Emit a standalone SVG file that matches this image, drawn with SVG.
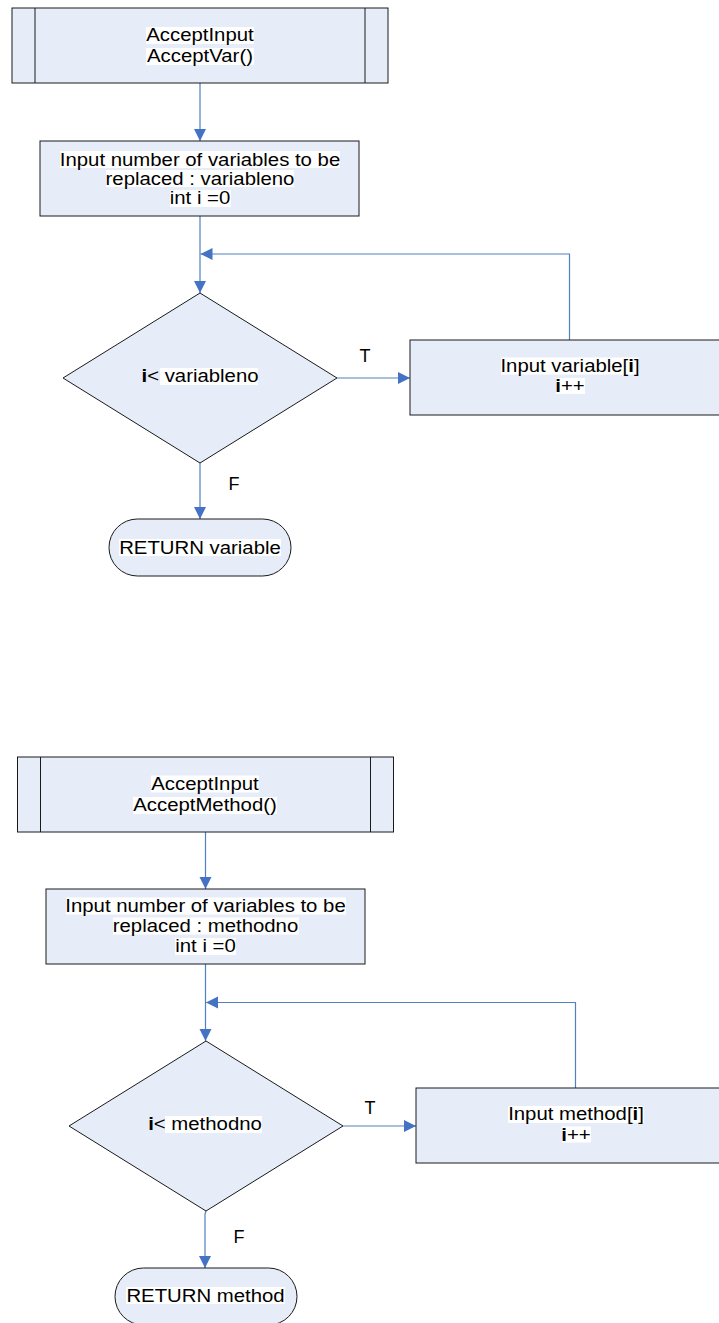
<svg xmlns="http://www.w3.org/2000/svg" width="719" height="1323" viewBox="0 0 719 1323">
<style>
.shape{fill:#E7EDF8;stroke:#1a1a1a;stroke-width:1}
.edge{fill:none;stroke:#4F81BD;stroke-width:1.2}
.tbg{fill:#ffffff}
.t{font-family:"Liberation Sans",Arial,sans-serif;font-size:18.5px;fill:#000;text-anchor:middle}
.lbl{font-family:"Liberation Sans",Arial,sans-serif;font-size:18px;fill:#000;text-anchor:middle}
.b{font-weight:bold}
</style>
<defs>
<marker id="arr" markerUnits="userSpaceOnUse" markerWidth="13" markerHeight="13" refX="12" refY="6" orient="auto" viewBox="0 0 13 12">
<path d="M0,0 L12,6 L0,12 z" fill="#4472C4"/>
</marker>
</defs>
<rect width="719" height="1323" fill="#ffffff"/>

<g id="connectors">
<path class="edge" d="M200,83 L200,141" marker-end="url(#arr)"/>
<path class="edge" d="M200,216 L200,293" marker-end="url(#arr)"/>
<path class="edge" d="M337,378 L410,378" marker-end="url(#arr)"/>
<path class="edge" d="M569.5,340 L569.5,254 L200.5,254" marker-end="url(#arr)"/>
<path class="edge" d="M200,463 L200,519" marker-end="url(#arr)"/>
<path class="edge" d="M205.5,832 L205.5,889" marker-end="url(#arr)"/>
<path class="edge" d="M205.5,964 L205.5,1041" marker-end="url(#arr)"/>
<path class="edge" d="M343,1126 L416,1126" marker-end="url(#arr)"/>
<path class="edge" d="M575.5,1088 L575.5,1002.5 L206,1002.5" marker-end="url(#arr)"/>
<path class="edge" d="M206,1211 L205,1214 L205,1268" marker-end="url(#arr)"/>
</g>

<g id="edge-labels">
<text class="lbl" x="365" y="362">T</text>
<text class="lbl" x="234" y="489.5">F</text>
<text class="lbl" x="370" y="1114">T</text>
<text class="lbl" x="239" y="1242.5">F</text>
</g>

<g id="n1-acceptvar">
<rect class="shape" x="12" y="8" width="376" height="75"/>
<line class="shape" x1="35" y1="8" x2="35" y2="83"/>
<line class="shape" x1="365" y1="8" x2="365" y2="83"/>
<rect class="tbg" x="146" y="27" width="108" height="17"/>
<rect class="tbg" x="146" y="48" width="108" height="17"/>
<text class="t" transform="translate(200,41) scale(1.1,1)">AcceptInput</text>
<text class="t" transform="translate(200,62) scale(1.1,1)">AcceptVar()</text>
</g>

<g id="n2-input-variableno">
<rect class="shape" x="40" y="141" width="319" height="75"/>
<rect class="tbg" x="60" y="151" width="280" height="17"/>
<rect class="tbg" x="106" y="170" width="188" height="17"/>
<rect class="tbg" x="170" y="190" width="61" height="17"/>
<text class="t" transform="translate(200,165.5) scale(1.1,1)">Input number of variables to be</text>
<text class="t" transform="translate(200,184.5) scale(1.1,1)">replaced : variableno</text>
<text class="t" transform="translate(200,204) scale(1.1,1)">int i =0</text>
</g>

<g id="n3-decision-variableno">
<polygon class="shape" points="200,293 337,378 200,463 63,378"/>
<rect class="tbg" x="160" y="368" width="98" height="17"/>
<text class="t" transform="translate(200,382) scale(1.1,1)"><tspan class="b">i</tspan>&lt; variableno</text>
</g>

<g id="n4-input-variable">
<rect class="shape" x="410" y="340" width="315" height="75"/>
<rect class="tbg" x="501" y="357.5" width="138" height="17"/>
<rect class="tbg" x="556" y="378" width="29" height="16"/>
<text class="t" transform="translate(570,371.5) scale(1.1,1)">Input variable[<tspan class="b">i</tspan>]</text>
<text class="t" transform="translate(570,392) scale(1.1,1)"><tspan class="b">i</tspan>++</text>
</g>

<g id="n5-return-variable">
<rect class="shape" x="109" y="519" width="182" height="57" rx="28.5" ry="28.5"/>
<rect class="tbg" x="119" y="539" width="162" height="17"/>
<text class="t" transform="translate(200,554) scale(1.1,1)">RETURN variable</text>
</g>

<g id="n6-acceptmethod">
<rect class="shape" x="17.5" y="757" width="376" height="75"/>
<line class="shape" x1="40.5" y1="757" x2="40.5" y2="832"/>
<line class="shape" x1="370.5" y1="757" x2="370.5" y2="832"/>
<rect class="tbg" x="151" y="775.5" width="108" height="17"/>
<rect class="tbg" x="133" y="797" width="144" height="17"/>
<text class="t" transform="translate(205,789.5) scale(1.1,1)">AcceptInput</text>
<text class="t" transform="translate(205,811) scale(1.1,1)">AcceptMethod()</text>
</g>

<g id="n7-input-methodno">
<rect class="shape" x="46" y="889" width="319" height="75"/>
<rect class="tbg" x="66" y="897.5" width="280" height="17"/>
<rect class="tbg" x="113" y="917.5" width="186" height="17"/>
<rect class="tbg" x="175" y="938" width="61" height="17"/>
<text class="t" transform="translate(205.5,912) scale(1.1,1)">Input number of variables to be</text>
<text class="t" transform="translate(205.5,932) scale(1.1,1)">replaced : methodno</text>
<text class="t" transform="translate(205.5,952) scale(1.1,1)">int i =0</text>
</g>

<g id="n8-decision-methodno">
<polygon class="shape" points="206,1041 343,1126 206,1211 69,1126"/>
<rect class="tbg" x="165" y="1116" width="97" height="17"/>
<text class="t" transform="translate(205,1130) scale(1.1,1)"><tspan class="b">i</tspan>&lt; methodno</text>
</g>

<g id="n9-input-method">
<rect class="shape" x="416" y="1088" width="310" height="75"/>
<rect class="tbg" x="508" y="1106" width="136" height="17"/>
<rect class="tbg" x="562" y="1126.5" width="29" height="16"/>
<text class="t" transform="translate(576,1120) scale(1.1,1)">Input method[<tspan class="b">i</tspan>]</text>
<text class="t" transform="translate(576,1140.5) scale(1.1,1)"><tspan class="b">i</tspan>++</text>
</g>

<g id="n10-return-method">
<rect class="shape" x="115" y="1268" width="182" height="57" rx="28.5" ry="28.5"/>
<rect class="tbg" x="126" y="1287" width="159" height="17"/>
<text class="t" transform="translate(205.5,1302) scale(1.1,1)">RETURN method</text>
</g>
</svg>
